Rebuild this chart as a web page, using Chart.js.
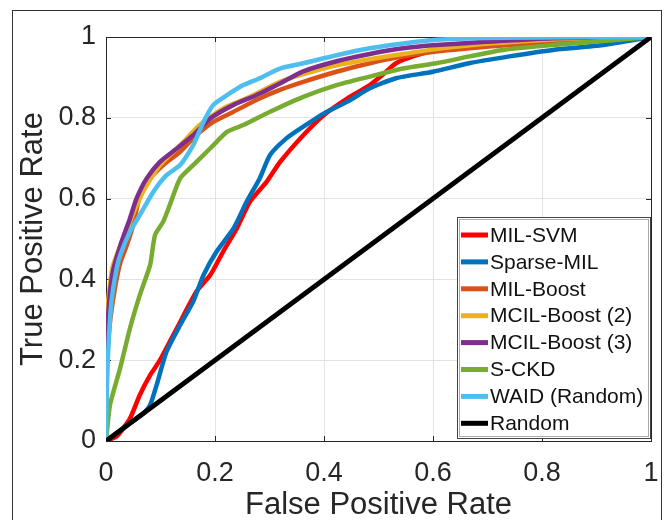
<!DOCTYPE html>
<html lang="en">
<head>
  <meta charset="UTF-8" />
  <title>ROC curves</title>
  <script src="https://cdn.jsdelivr.net/npm/chart.js@4.4.0"></script>
  <style>
    body { margin: 0; background: #fff; }
    canvas { display: block; }
  </style>
</head>
<body>
  <canvas id="rocChart" width="670" height="520"></canvas>

  <script>
    // values: false positive rate (x) / true positive rate (y)
    const svmFpr = [0, 0.02, 0.044, 0.062, 0.081, 0.099, 0.13, 0.166, 0.191, 0.215, 0.24, 0.264, 0.295, 0.319, 0.362, 0.40, 0.443, 0.484, 0.514, 0.532, 0.563, 0.605, 0.666, 0.75, 0.85, 1];
    const svmTpr = [0, 0.012, 0.056, 0.114, 0.163, 0.2, 0.279, 0.37, 0.41, 0.469, 0.526, 0.592, 0.642, 0.69, 0.757, 0.807, 0.848, 0.881, 0.914, 0.935, 0.952, 0.968, 0.98, 0.988, 0.995, 1];

    const sparseFpr = [0, 0.04, 0.07, 0.081, 0.093, 0.111, 0.136, 0.16, 0.179, 0.203, 0.234, 0.258, 0.282, 0.301, 0.331, 0.362, 0.40, 0.443, 0.484, 0.532, 0.60, 0.666, 0.74, 0.82, 0.912, 1];
    const sparseTpr = [0, 0.04, 0.07, 0.089, 0.139, 0.221, 0.287, 0.345, 0.411, 0.469, 0.526, 0.592, 0.65, 0.708, 0.749, 0.778, 0.811, 0.84, 0.873, 0.898, 0.914, 0.935, 0.952, 0.968, 0.98, 1];

    const boostFpr = [0, 0.001, 0.007, 0.016, 0.026, 0.037, 0.049, 0.062, 0.081, 0.105, 0.136, 0.166, 0.197, 0.234, 0.276, 0.319, 0.362, 0.423, 0.484, 0.545, 0.606, 0.697, 0.82, 1];
    const boostTpr = [0, 0.18, 0.29, 0.375, 0.44, 0.48, 0.53, 0.605, 0.65, 0.683, 0.716, 0.757, 0.79, 0.815, 0.844, 0.869, 0.889, 0.914, 0.935, 0.952, 0.964, 0.976, 0.988, 1];

    const mcil2Fpr = [0, 0.001, 0.005, 0.0123, 0.031, 0.049, 0.068, 0.099, 0.136, 0.172, 0.215, 0.264, 0.319, 0.362, 0.423, 0.484, 0.545, 0.606, 0.697, 0.82, 1];
    const mcil2Tpr = [0, 0.3, 0.36, 0.432, 0.5, 0.56, 0.617, 0.683, 0.732, 0.782, 0.823, 0.852, 0.889, 0.908, 0.93, 0.945, 0.958, 0.97, 0.983, 0.994, 1];

    const mcil3Fpr = [0, 0.001, 0.005, 0.0123, 0.026, 0.044, 0.0563, 0.0747, 0.099, 0.13, 0.16, 0.191, 0.234, 0.276, 0.319, 0.362, 0.423, 0.484, 0.545, 0.606, 0.697, 0.82, 1];
    const mcil3Tpr = [0, 0.22, 0.33, 0.417, 0.483, 0.551, 0.601, 0.65, 0.691, 0.724, 0.757, 0.798, 0.832, 0.856, 0.885, 0.915, 0.94, 0.958, 0.972, 0.98, 0.988, 0.997, 1];

    const sckdFpr = [0, 0.0073, 0.0257, 0.044, 0.062, 0.081, 0.09, 0.105, 0.117, 0.136, 0.16, 0.191, 0.222, 0.252, 0.301, 0.362, 0.423, 0.484, 0.545, 0.606, 0.667, 0.728, 0.82, 0.912, 1];
    const sckdTpr = [0, 0.089, 0.179, 0.279, 0.361, 0.436, 0.51, 0.543, 0.584, 0.65, 0.683, 0.724, 0.765, 0.782, 0.815, 0.852, 0.881, 0.902, 0.922, 0.935, 0.952, 0.968, 0.98, 0.99, 1];

    const waidFpr = [0, 0.001, 0.004, 0.01, 0.0196, 0.026, 0.044, 0.062, 0.087, 0.111, 0.136, 0.16, 0.179, 0.197, 0.222, 0.252, 0.282, 0.319, 0.362, 0.423, 0.484, 0.545, 0.606, 0.728, 1];
    const waidTpr = [0, 0.097, 0.221, 0.345, 0.427, 0.46, 0.518, 0.559, 0.617, 0.658, 0.683, 0.732, 0.79, 0.832, 0.856, 0.881, 0.898, 0.922, 0.935, 0.955, 0.972, 0.984, 0.993, 0.998, 1];

    const randomFpr = [0, 1];
    const randomTpr = [0, 1];

    const seriesNames = ['MIL-SVM', 'Sparse-MIL', 'MIL-Boost', 'MCIL-Boost (2)', 'MCIL-Boost (3)', 'S-CKD', 'WAID (Random)', 'Random'];
    const seriesColors = ['#ff0000', '#0072bd', '#d95319', '#edb120', '#7e2f8e', '#77ac30', '#4dbeee', '#000000'];
    const axisTicks = [0, 0.2, 0.4, 0.6, 0.8, 1];
    const tickLabels = ['0', '0.2', '0.4', '0.6', '0.8', '1'];

    const seriesX = [svmFpr, sparseFpr, boostFpr, mcil2Fpr, mcil3Fpr, sckdFpr, waidFpr, randomFpr];
    const seriesY = [svmTpr, sparseTpr, boostTpr, mcil2Tpr, mcil3Tpr, sckdTpr, waidTpr, randomTpr];

    const FONT = '"Liberation Sans", Arial, sans-serif';

    const datasets = seriesNames.map((name, i) => ({
      label: name,
      data: seriesX[i].map((x, k) => ({ x: x, y: seriesY[i][k] })),
      borderColor: seriesColors[i],
      backgroundColor: seriesColors[i],
      borderWidth: name === 'Random' ? 5 : 4.5,
      pointRadius: 0,
      tension: name === 'Random' ? 0 : 0.2,
      borderJoinStyle: 'round',
      order: seriesNames.length - 1 - i   // later series drawn on top, like matlab
    }));

    const tickText = v => tickLabels[axisTicks.indexOf(v)] ?? String(v);

    // outer frame, axes box with inward ticks, and legend box
    const matlabLook = {
      id: 'matlabLook',
      beforeDraw(chart) {
        const ctx = chart.ctx;
        ctx.save();
        ctx.strokeStyle = '#333';
        ctx.lineWidth = 1;
        ctx.strokeRect(12.5, 10.5, 649, 520);
        ctx.restore();
      },
      beforeDatasetsDraw(chart) {
        const { ctx, chartArea: a, scales } = chart;
        ctx.save();
        ctx.strokeStyle = '#262626';
        ctx.lineWidth = 1;
        ctx.strokeRect(Math.round(a.left) + 0.5, Math.round(a.top) + 0.5,
                       Math.round(a.right - a.left), Math.round(a.bottom - a.top));
        ctx.beginPath();
        axisTicks.forEach(v => {
          const px = Math.round(scales.x.getPixelForValue(v)) + 0.5;
          const py = Math.round(scales.y.getPixelForValue(v)) + 0.5;
          ctx.moveTo(px, a.bottom); ctx.lineTo(px, a.bottom - 5);
          ctx.moveTo(px, a.top); ctx.lineTo(px, a.top + 5);
          ctx.moveTo(a.left, py); ctx.lineTo(a.left + 5, py);
          ctx.moveTo(a.right, py); ctx.lineTo(a.right - 5, py);
        });
        ctx.stroke();
        ctx.restore();
      },
      afterDraw(chart) {
        const { ctx, chartArea: a } = chart;
        const bx = 457, by = 217, bw = a.right - bx, bh = a.bottom - 2 - by;
        ctx.save();
        ctx.fillStyle = '#fff';
        ctx.fillRect(bx, by, bw, bh);
        ctx.strokeStyle = '#444';
        ctx.lineWidth = 1;
        ctx.strokeRect(bx + 0.5, by + 0.5, bw - 1, bh - 1);
        ctx.strokeStyle = '#aaa';
        ctx.strokeRect(bx + 2.5, by + 2.5, bw - 5, bh - 5);
        ctx.font = '21px ' + FONT;
        ctx.textBaseline = 'middle';
        chart.data.datasets.forEach((ds, i) => {
          const y = 235 + i * 26.9;
          ctx.strokeStyle = ds.borderColor;
          ctx.lineWidth = 5;
          ctx.beginPath();
          ctx.moveTo(461, y); ctx.lineTo(488, y);
          ctx.stroke();
          ctx.fillStyle = '#111';
          ctx.fillText(ds.label, 490, y + 1);
        });
        ctx.restore();
      }
    };

    new Chart(document.getElementById('rocChart'), {
      type: 'line',
      data: { datasets: datasets },
      options: {
        responsive: false,
        animation: false,
        layout: { padding: { top: 37, right: 19, bottom: 0, left: 0 } },
        plugins: {
          legend: { display: false },
          tooltip: { enabled: false }
        },
        scales: {
          x: {
            type: 'linear',
            min: 0,
            max: 1,
            afterBuildTicks: s => { s.ticks = axisTicks.map(v => ({ value: v })); },
            afterFit: s => { s.height = 79; s.paddingLeft = 0; s.paddingRight = 0; },
            ticks: { color: '#262626', font: { family: FONT, size: 27 }, padding: 16, maxRotation: 0, callback: tickText },
            grid: { color: '#e3e3e3', drawTicks: false },
            border: { display: false },
            title: {
              display: true,
              text: 'False Positive Rate',
              color: '#262626',
              font: { family: FONT, size: 31, lineHeight: 1 },
              padding: { top: 0, bottom: -1 }
            }
          },
          y: {
            type: 'linear',
            min: 0,
            max: 1,
            afterBuildTicks: s => { s.ticks = axisTicks.map(v => ({ value: v })); },
            afterFit: s => { s.width = 106; s.paddingTop = 0; s.paddingBottom = 0; },
            ticks: { color: '#262626', font: { family: FONT, size: 27 }, padding: 10, callback: tickText },
            grid: { color: '#e3e3e3', drawTicks: false },
            border: { display: false },
            title: {
              display: true,
              text: 'True Positive Rate',
              color: '#262626',
              font: { family: FONT, size: 31, lineHeight: 1 },
              padding: { top: 18, bottom: 0 }
            }
          }
        }
      },
      plugins: [matlabLook]
    });
  </script>
</body>
</html>
